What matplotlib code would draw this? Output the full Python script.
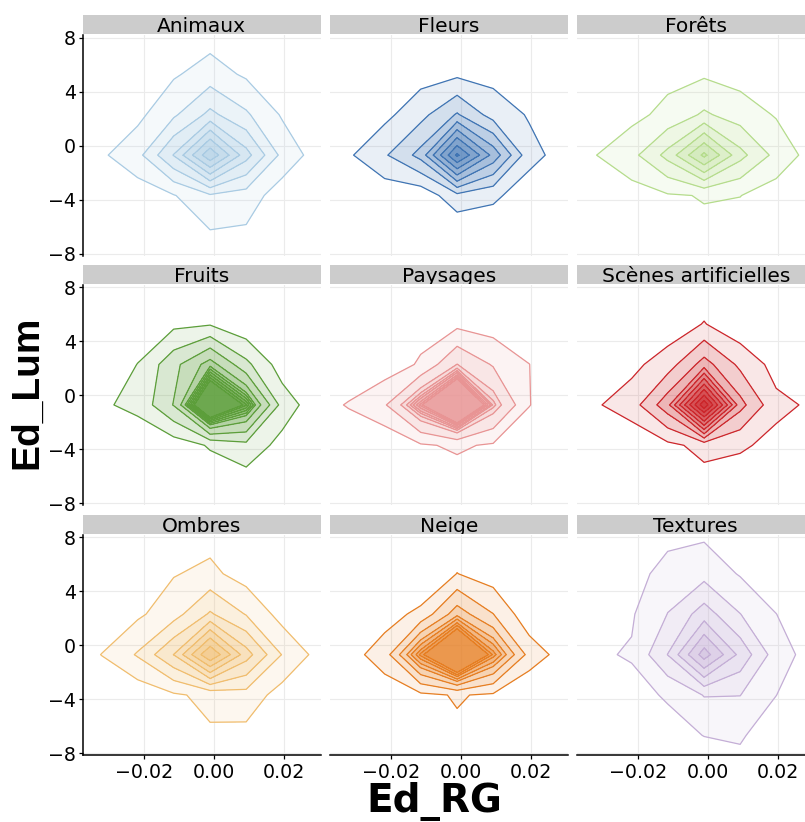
import numpy as np
import matplotlib
matplotlib.use("Agg")
import matplotlib.pyplot as plt
from matplotlib.colors import to_rgb

plt.rcParams['font.family'] = ['DejaVu Sans']

# ---------------- data ----------------
# density estimation grid (Ed_RG columns, Ed_Lum rows)
ed_rg_grid = [-0.0425, -0.0322, -0.0219, -0.0116, -0.0012, 0.0091, 0.0194, 0.0298]
ed_lum_grid = [-9.67, -6.68, -3.69, -0.70, 2.30, 5.29, 8.28]

categories = ["Animaux", "Fleurs", "Forêts",
              "Fruits", "Paysages", "Scènes artificielles",
              "Ombres", "Neige", "Textures"]

line_colors = ["#a9cbe3", "#3f74b3", "#b5dc8c",
               "#5c9e3a", "#e89494", "#cc262b",
               "#f0bd6e", "#e67e22", "#c4aed6"]

# density values on the grid, rows from Ed_Lum = -9.67 (first) to 8.28 (last)
dens_animaux = [
    [0, 0, 0.1, 0.2, 0.3, 0.3, 0.1, 0],
    [0, 0.1, 0.2, 0.5, 0.85, 0.79, 0.3, 0.1],
    [0.1, 0.3, 0.47, 0.94, 1.85, 1.54, 0.46, 0.2],
    [0.2, 0.85, 1.67, 4.05, 7.8, 4.4, 1.7, 0.51],
    [0.1, 0.3, 0.74, 1.83, 3.27, 2.15, 0.89, 0.3],
    [0, 0.2, 0.4, 0.88, 1.45, 0.85, 0.4, 0.2],
    [0, 0.1, 0.2, 0.4, 0.57, 0.4, 0.2, 0.1],
]
dens_fleurs = [
    [0, 0, 0, 0, 0, 0, 0, 0],
    [0, 0.1, 0.2, 0.2, 0.0, 0.29, 0.2, 0.1],
    [0.1, 0.3, 0.37, 0.3, 1.7, 1.2, 0.46, 0.2],
    [0.2, 0.86, 1.87, 3.34, 8.2, 4.67, 1.33, 0.58],
    [0.1, 0.35, 0.73, 1.67, 3.1, 1.57, 0.91, 0.4],
    [0, 0.2, 0.4, 0.61, 0.81, 0.69, 0.4, 0.2],
    [0, 0.1, 0.2, 0.3, 0.4, 0.3, 0.2, 0.1],
]
dens_forets = [
    [0, 0, 0.1, 0.2, 0.3, 0.2, 0.1, 0],
    [0, 0.1, 0.3, 0.5, 0.81, 0.5, 0.3, 0.1],
    [0.2, 0.4, 0.58, 0.9, 1.05, 1.02, 0.51, 0.2],
    [0.4, 0.98, 1.68, 3.33, 6.25, 3.33, 1.68, 0.58],
    [0.2, 0.5, 0.72, 1.28, 2.15, 1.51, 0.92, 0.4],
    [0, 0.3, 0.45, 0.72, 0.87, 0.63, 0.4, 0.2],
    [0, 0.1, 0.2, 0.3, 0.4, 0.3, 0.2, 0.1],
]
dens_fruits = [
    [0, 0, 0, 0.1, 0.1, 0.2, 0.1, 0],
    [0, 0.1, 0.1, 0.2, 0.3, 0.41, 0.3, 0.1],
    [0.1, 0.2, 0.3, 0.46, 1.1, 1.69, 0.64, 0.2],
    [0.2, 0.86, 1.27, 3.05, 8.0, 5.65, 1.6, 0.32],
    [0.1, 0.3, 1.02, 2.68, 4.44, 2.27, 0.48, 0.1],
    [0, 0.2, 0.4, 0.76, 0.91, 0.25, 0.15, 0.05],
    [0, 0.1, 0.2, 0.3, 0.3, 0.2, 0.1, 0],
]
dens_paysages = [
    [0, 0, 0, 0, 0, 0, 0, 0],
    [0, 0, 0.1, 0.3, 0.5, 0.3, 0.1, 0],
    [0, 0, 0.19, 0.88, 1.15, 0.87, 0.4, 0.1],
    [0.4, 1.1, 1.88, 4.38, 7.2, 3.59, 1.03, 0.3],
    [0, 0, 0.45, 1.12, 3.02, 1.9, 1.01, 0.3],
    [0, 0.1, 0.2, 0.64, 0.75, 0.54, 0.4, 0.2],
    [0, 0, 0.1, 0.2, 0.3, 0.3, 0.2, 0.1],
]
dens_scenes = [
    [0, 0, 0, 0.1, 0.2, 0.1, 0, 0],
    [0, 0.1, 0.1, 0.3, 0.59, 0.4, 0.2, 0.1],
    [0.1, 0.2, 0.27, 0.76, 1.3, 1.15, 0.71, 0.3],
    [0.3, 0.89, 1.51, 3.64, 10.8, 3.35, 1.25, 0.85],
    [0.1, 0.3, 0.73, 1.51, 3.43, 1.76, 0.64, 0.3],
    [0, 0.2, 0.3, 0.38, 1.05, 0.3, 0.2, 0.1],
    [0, 0.1, 0.2, 0.3, 0.38, 0.2, 0.1, 0],
]
dens_ombres = [
    [0, 0, 0.1, 0.2, 0.3, 0.2, 0.1, 0],
    [0, 0.1, 0.2, 0.5, 0.88, 0.7, 0.3, 0.1],
    [0.1, 0.2, 0.33, 0.86, 1.25, 1.6, 0.57, 0.2],
    [0.3, 1.02, 2.1, 4.02, 8.0, 4.45, 1.95, 0.65],
    [0.1, 0.3, 0.82, 1.59, 3.13, 1.94, 0.6, 0.2],
    [0, 0.2, 0.4, 0.94, 1.25, 0.56, 0.3, 0.1],
    [0, 0.1, 0.2, 0.4, 0.61, 0.3, 0.1, 0],
]
dens_neige = [
    [0, 0, 0.1, 0.1, 0.2, 0.1, 0, 0],
    [0, 0.1, 0.2, 0.3, 0.84, 0.3, 0.1, 0],
    [0.1, 0.2, 0.48, 0.78, 1.08, 0.85, 0.05, 0.1],
    [0.2, 0.62, 1.48, 5.18, 9.0, 4.97, 1.63, 0.48],
    [0.1, 0.2, 0.59, 1.25, 3.54, 2.02, 0.3, 0.1],
    [0, 0.1, 0.2, 0.06, 1.02, 0.48, 0.1, 0.1],
    [0, 0.1, 0.2, 0.2, 0.3, 0.2, 0.1, 0],
]
dens_textures = [
    [0, 0, 0.1, 0.2, 0.3, 0.65, 0.2, 0.1],
    [0, 0.1, 0.2, 0.65, 1.02, 1.1, 0.5, 0.2],
    [0.1, 0.3, 0.7, 1.1, 2.05, 2.02, 1.01, 0.3],
    [0.2, 0.88, 1.08, 3.02, 6.5, 3.71, 1.49, 0.57],
    [0.1, 0.4, 0.9, 2.02, 3.5, 2.02, 1.01, 0.3],
    [0, 0.2, 0.48, 1.5, 1.65, 0.92, 0.4, 0.2],
    [0, 0.1, 0.3, 0.6, 0.82, 0.5, 0.2, 0.1],
]

# contour levels per category
levels_animaux = [1, 2, 3, 4, 5, 6, 7]
levels_fleurs = [1, 2, 3, 4, 5, 6, 7, 8]
levels_forets = [1, 2, 3, 4, 5, 6]
levels_fruits = [1, 2, 3, 4, 4.6, 4.85, 5.1, 5.35, 5.6, 5.85]
levels_paysages = [1, 2, 3, 3.4, 3.65, 3.85, 4.1, 4.3, 4.5]
levels_scenes = [1, 2, 3, 4, 5, 6, 7, 8, 9, 10]
levels_ombres = [1, 2, 3, 4, 5, 6, 7]
levels_neige = [1, 2, 3, 3.75, 4.2, 4.7, 5.05, 5.5]
levels_textures = [1, 2, 3, 4, 5, 6]

x_ticks = [-0.02, 0.00, 0.02]
x_tick_labels = ["\u22120.02", "0.00", "0.02"]
y_ticks = [-8, -4, 0, 4, 8]
y_tick_labels = ["\u22128", "\u22124", "0", "4", "8"]

x_title = "Ed_RG"
y_title = "Ed_Lum"

densities = [dens_animaux, dens_fleurs, dens_forets, dens_fruits, dens_paysages,
             dens_scenes, dens_ombres, dens_neige, dens_textures]
levels_all = [levels_animaux, levels_fleurs, levels_forets, levels_fruits, levels_paysages,
              levels_scenes, levels_ombres, levels_neige, levels_textures]

# ---------------- layout ----------------
W, H = 805, 822
fig = plt.figure(figsize=(W / 100, H / 100), dpi=100)
fig.patch.set_facecolor("white")

col_left = [82.7, 329.7, 576.7]
panel_w = 238.0
row_top = [35.0, 284.8, 534.5]
panel_h = 220.7

XX, YY = np.meshgrid(ed_rg_grid, ed_lum_grid)

for idx, name in enumerate(categories):
    r, c = divmod(idx, 3)
    left = col_left[c] / W
    bottom = 1 - (row_top[r] + panel_h) / H
    ax = fig.add_axes([left, bottom, panel_w / W, panel_h / H])
    ax.set_facecolor("white")
    ax.set_xlim(-0.0376, 0.0304)
    ax.set_ylim(-8.15, 8.2)

    Z = np.array(densities[idx], dtype=float)
    lv = list(levels_all[idx])
    col = line_colors[idx]
    rgb = to_rgb(col)
    per_layer = 0.11 + 0.02 * np.arange(len(lv))
    comp = 1 - np.cumprod(1 - per_layer)
    fills = [(rgb[0], rgb[1], rgb[2], float(a)) for a in comp]
    ax.contourf(XX, YY, Z, levels=lv + [Z.max() + 1.0], colors=fills, zorder=2)
    ax.contour(XX, YY, Z, levels=lv, colors=[col], linewidths=0.9, zorder=3)

    ax.set_xticks(x_ticks)
    ax.set_yticks(y_ticks)
    ax.grid(True, color="#ebebeb", linewidth=0.8, zorder=0)
    ax.set_axisbelow(True)
    for s in ax.spines.values():
        s.set_visible(False)

    if c == 0:
        ax.spines["left"].set_visible(True)
        ax.spines["left"].set_linewidth(1.1)
        ax.spines["left"].set_color("black")
        ax.set_yticklabels(y_tick_labels)
        ax.tick_params(axis="y", length=3.0, width=0.9, color="black",
                       labelsize=13.7, pad=2.0, labelcolor="black")
    else:
        ax.tick_params(axis="y", length=0, labelleft=False)
    if r == 2:
        ax.spines["bottom"].set_visible(True)
        ax.spines["bottom"].set_linewidth(1.1)
        ax.spines["bottom"].set_color("black")
        ax.set_xticklabels(x_tick_labels)
        ax.tick_params(axis="x", length=3.0, width=0.9, color="black",
                       labelsize=13.7, pad=2.4, labelcolor="black")
    else:
        ax.tick_params(axis="x", length=0, labelbottom=False)

    # facet strip
    sax = fig.add_axes([left, 1 - (row_top[r] - 1.0) / H, panel_w / W, 19.0 / H])
    sax.set_facecolor("#cccccc")
    sax.set_xticks([])
    sax.set_yticks([])
    for s in sax.spines.values():
        s.set_visible(False)
    sax.text(0.5, 0.08, name, ha="center", va="baseline", fontsize=14.5,
             color="black", transform=sax.transAxes, clip_on=True)

fig.text(434 / W, 1 - 811.5 / H, x_title, ha="center", va="baseline",
         fontsize=28, fontweight="bold", family="DejaVu Sans")
fig.text(27 / W, 1 - 392 / H, y_title, ha="center", va="center",
         fontsize=28, fontweight="bold", rotation=90,
         family=["Liberation Sans", "DejaVu Sans"])

fig.savefig("out.png", dpi=100, facecolor="white")
